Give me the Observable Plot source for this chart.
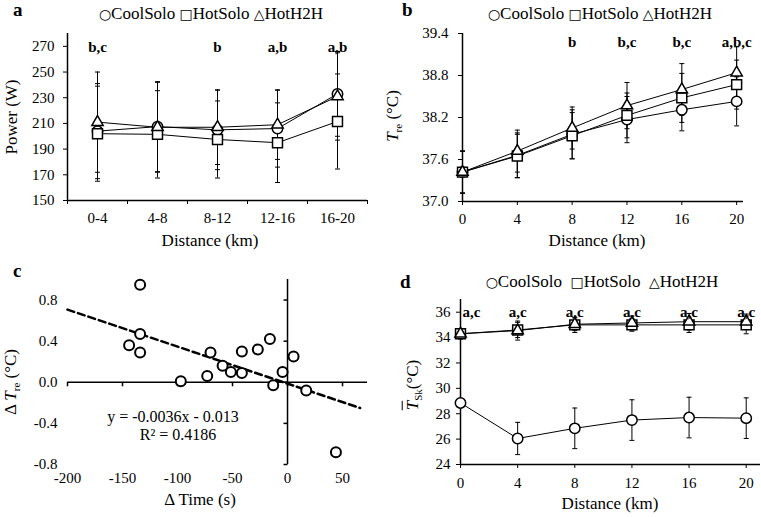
<!DOCTYPE html>
<html><head><meta charset="utf-8">
<script src="https://cdn.jsdelivr.net/npm/d3@7"></script>
<script src="https://cdn.jsdelivr.net/npm/@observablehq/plot@0.6"></script>
<style>
body{margin:0;background:#fff;}
#root{position:relative;width:761px;height:517px;overflow:hidden;font-family:"Liberation Serif","Times New Roman",serif;color:#000;background:#fff;}
.abs{position:absolute;white-space:nowrap;line-height:1;}
.panel{position:absolute;}
.lbl{font-weight:bold;font-size:19px;}
.leg{font-size:17px;transform:translateX(-50%);}
.leg .s{font-family:"DejaVu Sans",sans-serif;font-size:14px;}
.ttl{font-size:17px;transform:translateX(-50%);}
.rot{font-size:17px;line-height:1.2;transform:translate(-50%,-50%) rotate(-90deg);}
.eq{font-size:16px;transform:translateX(-50%);}
</style></head><body><div id="root"></div>
<script>
// ---------- data ----------
const seriesNames = ["CoolSolo", "HotSolo", "HotH2H"];
// Panel a: power
const segments = ["0-4", "4-8", "8-12", "12-16", "16-20"];
const powerCool = [204, 207.5, 205, 206, 233];
const powerHot = [202, 201.5, 197.5, 195, 211.5];
const powerH2H = [211, 207, 207, 209, 231];
const powerSdCool = [37, 35, 31, 30, 33];
const powerSdHot = [37, 34, 30, 31, 37];
const powerSdH2H = [39, 35, 29, 27, 34];
const powerTicks = [150, 170, 190, 210, 230, 250, 270];
const powerSig = ["b,c", "", "b", "a,b", "a,b"];
// Panel b: rectal temperature
const distance = [0, 4, 8, 12, 16, 20];
const treCool = [37.42, 37.66, 37.96, 38.17, 38.31, 38.43];
const treHot = [37.42, 37.65, 37.94, 38.23, 38.48, 38.67];
const treH2H = [37.42, 37.72, 38.05, 38.37, 38.60, 38.84];
const treSdCool = [0.3, 0.32, 0.35, 0.33, 0.3, 0.35];
const treSdHot = [0.3, 0.31, 0.33, 0.32, 0.35, 0.35];
const treSdH2H = [0.3, 0.3, 0.3, 0.33, 0.37, 0.37];
const treTicks = [37.0, 37.6, 38.2, 38.8, 39.4];
const treSig = ["", "", "b", "b,c", "b,c", "a,b,c"];
// Panel c: delta Tre vs delta time
const deltaTime = [-134, -134, -144, -134, -97, -73, -70, -59, -51.5, -41.5, -41.5, -27, -16, -13, -4.5, 5.5, 17, 44];
const deltaTre = [0.95, 0.47, 0.36, 0.29, 0.01, 0.06, 0.29, 0.16, 0.10, 0.09, 0.30, 0.32, 0.42, -0.03, 0.10, 0.25, -0.08, -0.68];
const fitSlope = -0.0036;
const fitIntercept = -0.013;
const fitR2 = 0.4186;
const fitRange = [-200, 66];
const timeTicks = [-200, -150, -100, -50, 0, 50];
const dTreTicks = [-0.8, -0.4, 0.0, 0.4, 0.8];
// Panel d: mean skin temperature
const tskCool = [28.85, 26.05, 26.85, 27.5, 27.7, 27.65];
const tskHot = [34.3, 34.6, 35.0, 35.0, 35.0, 35.0];
const tskH2H = [34.3, 34.55, 35.05, 35.15, 35.25, 35.25];
const tskSdCool = [0.3, 1.27, 1.6, 1.6, 1.6, 1.6];
const tskSdHot = [0.4, 0.6, 0.6, 0.5, 0.6, 0.7];
const tskSdH2H = [0.4, 0.75, 0.5, 0.55, 0.65, 0.6];
const tskTicks = [24, 26, 28, 30, 32, 34, 36];
const tskSig = ["a,c", "a,c", "a,c", "a,c", "a,c", "a,c"];

// ---------- helpers ----------
const FONT = '"Liberation Serif","Times New Roman",serif';
const baseStyle = {fontFamily: FONT, fontSize: "15px", color: "black", background: "transparent", overflow: "visible"};
const capSym = {draw(ctx) { ctx.moveTo(-2.5, 0); ctx.lineTo(2.5, 0); }};
const leftTick = {draw(ctx) { ctx.moveTo(-4, 0); ctx.lineTo(0, 0); }};
const downTick = {draw(ctx) { ctx.moveTo(0, 0); ctx.lineTo(0, 4); }};
const symOf = {CoolSolo: "circle", HotSolo: "square", HotH2H: "triangle"};
const rOf = {CoolSolo: 5.2, HotSolo: 5.6, HotH2H: 4.2};

function rowsFor(xs, groups) {
  return groups.flatMap(([name, ys, sds]) => xs.map((x, i) => ({x, y: ys[i], sd: sds[i], series: name})));
}
function seriesMarks(data) {
  return [
    Plot.ruleX(data, {x: "x", y1: d => d.y - d.sd, y2: d => d.y + d.sd, stroke: "black", strokeWidth: 1}),
    Plot.dot(data, {x: "x", y: d => d.y + d.sd, symbol: capSym, stroke: "black", fill: "none", strokeWidth: 1}),
    Plot.dot(data, {x: "x", y: d => d.y - d.sd, symbol: capSym, stroke: "black", fill: "none", strokeWidth: 1}),
    Plot.line(data, {x: "x", y: "y", z: "series", stroke: "black", strokeWidth: 1}),
    ...seriesNames.map(s => Plot.dot(data.filter(d => d.series === s),
      {x: "x", y: "y", symbol: symOf[s], r: rOf[s], fill: "white", stroke: "black", strokeWidth: 1.5}))
  ];
}
const root = document.getElementById("root");
function place(el, left, top) {
  const div = document.createElement("div");
  div.className = "panel";
  div.style.left = left + "px";
  div.style.top = top + "px";
  div.appendChild(el);
  root.appendChild(div);
}
function html(cls, left, top, content) {
  const div = document.createElement("div");
  div.className = "abs " + cls;
  div.style.left = left + "px";
  div.style.top = top + "px";
  div.innerHTML = content;
  root.appendChild(div);
}
const fmt1 = d => d.toFixed(1);

// ---------- panel a ----------
const segMid = segments.map(s => d3.mean(s.split("-").map(Number)));
const segBounds = [0, ...segments.map(s => +s.split("-")[1])];
const dataA = rowsFor(segMid, [["CoolSolo", powerCool, powerSdCool], ["HotSolo", powerHot, powerSdHot], ["HotH2H", powerH2H, powerSdH2H]]);
const sigA = segMid.map((x, i) => ({x, t: powerSig[i]})).filter(d => d.t);
place(Plot.plot({
  width: 380, height: 255, marginLeft: 67, marginRight: 13, marginTop: 33, marginBottom: 55,
  style: baseStyle,
  x: {domain: [0, 20]},
  y: {domain: [150, 280]},
  marks: [
    Plot.axisY({ticks: powerTicks, tickSize: 4, tickPadding: 9, label: null, tickFormat: d => String(d)}),
    Plot.axisX({ticks: segBounds, tickSize: 4, tickFormat: () => "", label: null}),
    Plot.axisX({ticks: segMid, tickSize: 0, tickPadding: 12, label: null, tickFormat: d => segments[segMid.indexOf(d)]}),
    Plot.ruleX([0], {stroke: "black", strokeWidth: 1.5}),
    Plot.ruleY([150], {stroke: "black", strokeWidth: 1.5}),
    ...seriesMarks(dataA),
    Plot.text(sigA, {x: "x", text: "t", frameAnchor: "top", dy: 8, fontWeight: "bold", fontSize: 15})
  ]
}), 0, 0);

// ---------- panel b ----------
const dataB = rowsFor(distance, [["CoolSolo", treCool, treSdCool], ["HotSolo", treHot, treSdHot], ["HotH2H", treH2H, treSdH2H]]);
const sigB = distance.map((x, i) => ({x, t: treSig[i]})).filter(d => d.t);
place(Plot.plot({
  width: 381, height: 255, marginLeft: 82, marginRight: 18, marginTop: 33, marginBottom: 54,
  style: baseStyle,
  x: {domain: [0, 20.5]},
  y: {domain: [37.0, 39.4]},
  marks: [
    Plot.axisY({ticks: treTicks, tickSize: 4, tickPadding: 10, label: null, tickFormat: fmt1}),
    Plot.axisX({ticks: distance, tickSize: 4, tickPadding: 8, label: null, tickFormat: d => String(d)}),
    Plot.ruleX([0], {stroke: "black", strokeWidth: 1.5}),
    Plot.ruleY([37.0], {stroke: "black", strokeWidth: 1.5}),
    ...seriesMarks(dataB),
    Plot.text(sigB, {x: "x", text: "t", frameAnchor: "top", dy: 3, fontWeight: "bold", fontSize: 15})
  ]
}), 380, 0);

// ---------- panel c ----------
const pointsC = deltaTime.map((x, i) => ({x, y: deltaTre[i]}));
const fitLine = fitRange.map(x => ({x, y: fitSlope * x + fitIntercept}));
place(Plot.plot({
  width: 380, height: 262, marginLeft: 67, marginRight: 13, marginTop: 24, marginBottom: 53,
  style: baseStyle,
  x: {domain: [-200, 72.7]},
  y: {domain: [-0.8, 1.0]},
  marks: [
    Plot.axisY({ticks: dTreTicks, tickSize: 0, tickPadding: 10, label: null, tickFormat: fmt1}),
    Plot.axisX({ticks: timeTicks, tickSize: 0, tickPadding: 8, label: null, tickFormat: d => String(d)}),
    Plot.ruleX([0], {stroke: "black", strokeWidth: 1.5}),
    Plot.ruleY([0], {stroke: "black", strokeWidth: 1.5}),
    Plot.dot(dTreTicks, {x: () => 0, y: d => d, symbol: leftTick, stroke: "black", fill: "none"}),
    Plot.dot(timeTicks, {x: d => d, y: () => 0, symbol: downTick, stroke: "black", fill: "none"}),
    Plot.line(fitLine, {x: "x", y: "y", stroke: "black", strokeWidth: 2.5, strokeDasharray: "7,4"}),
    Plot.dot(pointsC, {x: "x", y: "y", r: 5, fill: "white", stroke: "black", strokeWidth: 2})
  ]
}), 0, 255);

// ---------- panel d ----------
const dataD = rowsFor(distance, [["CoolSolo", tskCool, tskSdCool], ["HotSolo", tskHot, tskSdHot], ["HotH2H", tskH2H, tskSdH2H]]);
const sigD = distance.map((x, i) => ({x, t: tskSig[i]}));
place(Plot.plot({
  width: 381, height: 262, marginLeft: 80, marginRight: 1, marginTop: 44, marginBottom: 53,
  style: baseStyle,
  x: {domain: [0, 21]},
  y: {domain: [24, 37]},
  marks: [
    Plot.axisY({ticks: tskTicks, tickSize: 4, tickPadding: 6, label: null, tickFormat: d => String(d)}),
    Plot.axisX({ticks: distance, tickSize: 4, tickPadding: 9, label: null, tickFormat: d => String(d)}),
    Plot.ruleX([0], {stroke: "black", strokeWidth: 1.5}),
    Plot.ruleY([24], {stroke: "black", strokeWidth: 1.5}),
    ...seriesMarks(dataD),
    Plot.text(sigD.slice(0, 1), {x: "x", text: "t", frameAnchor: "top", dy: 7, dx: 2, textAnchor: "start", fontWeight: "bold", fontSize: 15}),
    Plot.text(sigD.slice(1), {x: "x", text: "t", frameAnchor: "top", dy: 7, fontWeight: "bold", fontSize: 15})
  ]
}), 380, 255);

// ---------- text overlays ----------
const legendHtml = (gap) => seriesNames.map((s, i) =>
  `<span class="s">${["○", "□", "△"][i]}</span>${s}`).join(gap);
html("lbl", 13, 0, "a");
html("lbl", 402, 0, "b");
html("lbl", 13, 261, "c");
html("lbl", 400, 272, "d");
html("leg", 211, 5, legendHtml(" "));
html("leg", 600, 4.5, legendHtml(" "));
html("leg", 602, 272.5, legendHtml("&nbsp;&nbsp;"));
html("ttl", 210, 232, "Distance (km)");
html("ttl", 597, 232, "Distance (km)");
html("ttl", 200, 491, "Δ Time (s)");
html("ttl", 610, 495, "Distance (km)");
html("rot", 12, 117, "Power (W)");
html("rot", 394, 116, "<i>T</i><sub style='font-size:11px'>re</sub> (°C)");
html("rot", 12, 382, "Δ <i>T</i><sub style='font-size:11px'>re</sub> (°C)");
html("rot", 414, 385, "<i style='text-decoration:overline'>T</i><sub style='font-size:11px'>Sk</sub>(°C)");
html("eq", 173, 409, `y = ${fitSlope}x - ${Math.abs(fitIntercept)}`);
html("eq", 178, 427, `R² = ${fitR2}`);
</script></body></html>
